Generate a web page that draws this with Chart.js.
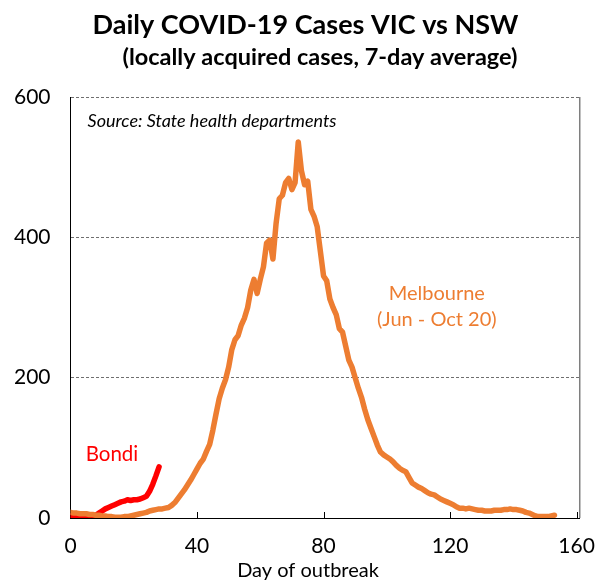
<!DOCTYPE html>
<html>
<head>
<meta charset="utf-8">
<script src="https://cdn.jsdelivr.net/npm/chart.js@4"></script>
<style>
  html, body { margin: 0; padding: 0; background: #ffffff; }
  #wrap { width: 611px; height: 581px; position: relative; }
</style>
</head>
<body>
<div id="wrap"><canvas id="c" width="611" height="581"></canvas></div>
<script>
// ---- Data ----
const titleText = 'Daily COVID-19 Cases VIC vs NSW';
const subtitleText = '(locally acquired cases, 7-day average)';
const sourceText = 'Source: State health departments';
const xAxisTitle = 'Day of outbreak';
const xTicks = [0, 40, 80, 120, 160];
const yTicks = [0, 200, 400, 600];

// Melbourne (Jun - Oct 20), day 0..153
const melbourneValues = [
  8, 7, 7, 6, 6, 6, 5, 5, 4, 4,
  3, 3, 2, 2, 1, 1, 1, 2, 2, 3,
  4, 5, 6, 7, 8, 10, 11, 12, 13, 13,
  14, 15, 18, 22, 28, 34, 40, 47, 54, 62,
  70, 78, 84, 95, 105, 125, 148, 170, 185, 197,
  215, 240, 254, 260, 275, 285, 300, 325, 340, 320,
  340, 358, 392, 396, 369, 420, 455, 460, 478, 484,
  468, 478, 536, 495, 475, 480, 440, 430, 415, 380,
  345, 338, 312, 300, 290, 270, 265, 245, 225, 215,
  200, 185, 172, 155, 140, 128, 116, 104, 94, 90,
  87, 84, 80, 75, 71, 68, 66, 58, 50, 47,
  44, 42, 39, 36, 34, 33, 30, 27, 25, 23,
  21, 19, 16, 14, 14, 13, 14, 13, 12, 11,
  11, 10, 10, 10, 11, 11, 11, 12, 12, 13,
  12, 12, 11, 10, 8, 7, 5, 3, 2, 2,
  2, 2, 3, 4
];

// Bondi, day 0..28
const bondiValues = [
  3, 2, 2, 1, 1, 1, 2, 3, 4, 7,
  10, 13, 15, 17, 19, 21, 23, 24, 26, 25,
  26, 26, 27, 29, 31, 38, 48, 60, 73
];

const seriesNames = ['Melbourne', 'Bondi'];
const seriesColors = ['#ED7D31', '#FF0000'];

// ---- Build datasets ----
const toPoints = arr => arr.map((v, i) => ({ x: i, y: v }));

const FONT = 'Lato, Carlito, Calibri, "Open Sans", sans-serif';

const annotations = {
  id: 'annotations',
  afterDraw(chart) {
    const ctx = chart.ctx;
    const xs = chart.scales.x, ys = chart.scales.y;
    const a = chart.chartArea;
    ctx.save();
    // subtitle
    ctx.fillStyle = '#000000';
    ctx.font = 'bold 23.5px ' + FONT;
    ctx.textAlign = 'center';
    ctx.textBaseline = 'middle';
    ctx.fillText(subtitleText, 320, 57);
    // right border of plot area
    ctx.strokeStyle = '#7f7f7f';
    ctx.lineWidth = 1.5;
    ctx.beginPath();
    ctx.moveTo(a.right, a.top);
    ctx.lineTo(a.right, a.bottom);
    ctx.stroke();
    // inward tick marks on x axis
    ctx.strokeStyle = '#000000';
    ctx.lineWidth = 1;
    xTicks.forEach(t => {
      if (t === 0) return;
      const px = Math.round(xs.getPixelForValue(t)) + 0.5;
      ctx.beginPath();
      ctx.moveTo(px, a.bottom);
      ctx.lineTo(px, a.bottom - 6);
      ctx.stroke();
    });
    // x axis title
    ctx.fillStyle = '#000000';
    ctx.font = '20px ' + FONT;
    ctx.textAlign = 'center';
    ctx.fillText(xAxisTitle, chart.width / 2 + 2.5, 571);
    // source note
    ctx.font = 'italic 18px ' + FONT;
    ctx.textAlign = 'left';
    ctx.fillText(sourceText, xs.getPixelForValue(5.4), ys.getPixelForValue(566));
    // series labels
    ctx.font = '20.5px ' + FONT;
    ctx.fillStyle = seriesColors[1];
    ctx.fillText('Bondi', xs.getPixelForValue(4.8), ys.getPixelForValue(90));
    ctx.font = '20px ' + FONT;
    ctx.fillStyle = seriesColors[0];
    ctx.textAlign = 'center';
    ctx.fillText('Melbourne', xs.getPixelForValue(115.8), ys.getPixelForValue(320));
    ctx.fillText('(Jun - Oct 20)', xs.getPixelForValue(115.8), ys.getPixelForValue(283));
    ctx.restore();
  }
};

new Chart(document.getElementById('c'), {
  type: 'line',
  data: {
    datasets: [
      {
        label: seriesNames[0],
        data: toPoints(melbourneValues),
        borderColor: seriesColors[0],
        backgroundColor: seriesColors[0],
        borderWidth: 5.5,
        pointRadius: 0,
        tension: 0,
        borderJoinStyle: 'round',
        borderCapStyle: 'round'
      },
      {
        label: seriesNames[1],
        data: toPoints(bondiValues),
        borderColor: seriesColors[1],
        backgroundColor: seriesColors[1],
        borderWidth: 5.5,
        pointRadius: 0,
        tension: 0,
        borderJoinStyle: 'round',
        borderCapStyle: 'round'
      }
    ]
  },
  options: {
    responsive: false,
    animation: false,
    events: [],
    layout: { padding: { left: 12, right: 12, top: 0, bottom: 0 } },
    plugins: {
      legend: { display: false },
      tooltip: { enabled: false },
      title: {
        display: true,
        text: titleText,
        color: '#000000',
        font: { family: FONT, size: 27, weight: 'bold', lineHeight: 1.2 },
        padding: { top: 9, bottom: 55.6 }
      },
      subtitle: { display: false }
    },
    scales: {
      x: {
        type: 'linear',
        min: 0,
        max: 161,
        afterBuildTicks(scale) { scale.ticks = xTicks.map(v => ({ value: v })); },
        afterFit(scale) { scale.height = 63; },
        grid: { display: false, drawTicks: false },
        border: { display: true, color: '#000000', width: 1 },
        ticks: {
          color: '#000000',
          font: { family: FONT, size: 21 },
          padding: 16,
          maxRotation: 0
        }
      },
      y: {
        min: 0,
        max: 600,
        afterBuildTicks(scale) { scale.ticks = yTicks.map(v => ({ value: v })); },
        afterFit(scale) { scale.width = 58.5; },
        grid: {
          color: '#6f6f6f',
          lineWidth: 1,
          drawTicks: false
        },
        border: { display: true, color: '#000000', width: 1, dash: [3, 2] },
        ticks: {
          color: '#000000',
          font: { family: FONT, size: 21 },
          padding: 20
        }
      },
      y2: {
        position: 'right',
        display: true,
        min: 0,
        max: 600,
        afterFit(scale) { scale.width = 12; },
        grid: { display: false, drawTicks: false },
        border: { display: false },
        ticks: { display: false }
      }
    }
  },
  plugins: [annotations]
});
</script>
</body>
</html>
